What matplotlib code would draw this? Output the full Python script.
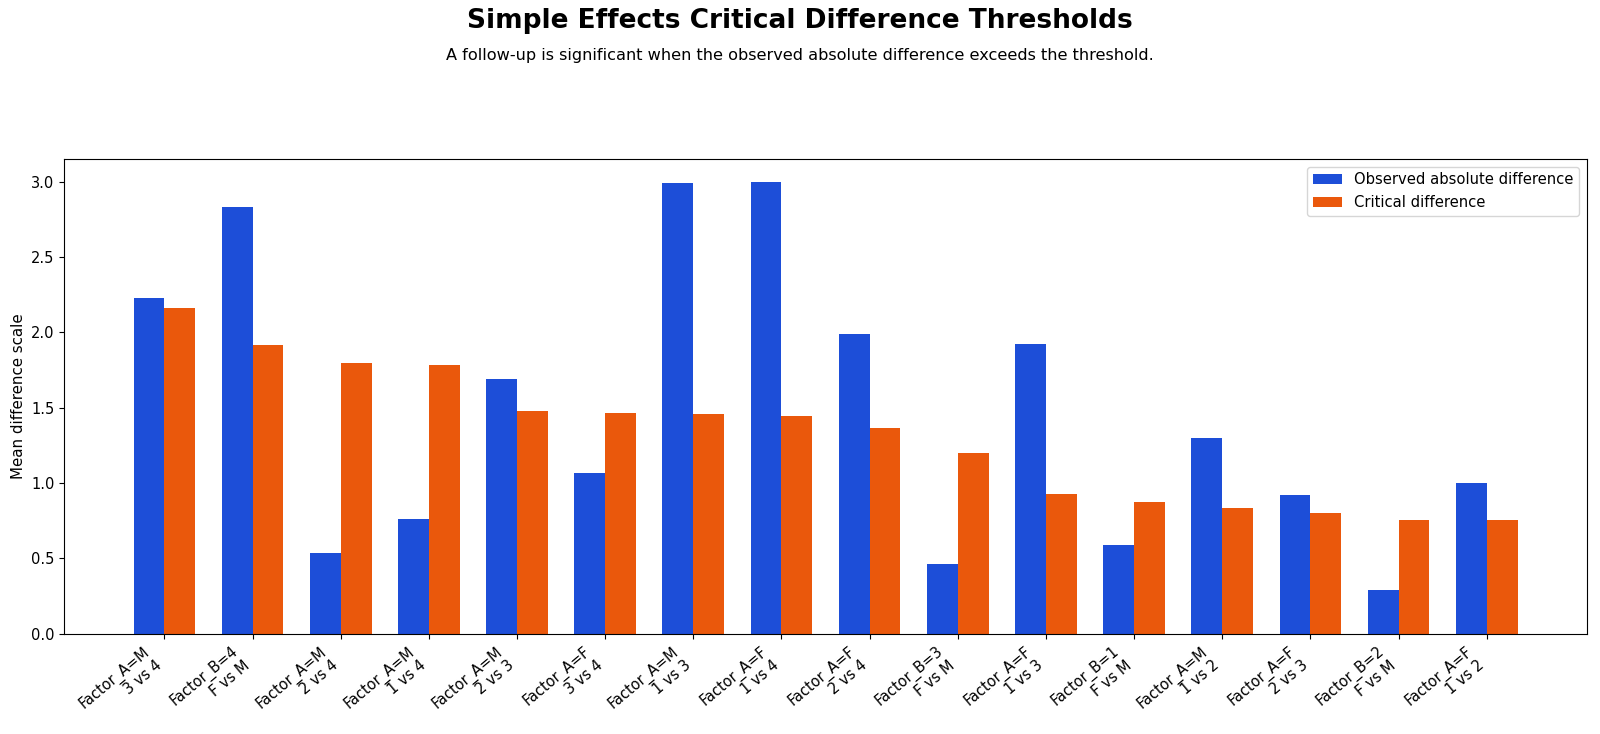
import matplotlib
matplotlib.use("Agg")
import matplotlib.pyplot as plt
import numpy as np

COLOR_OBSERVED = "#1d4ed8"
COLOR_CRITICAL = "#ea580c"
BAR_WIDTH = 0.35

comparisons = [
    "Factor_A=M\n3 vs 4", "Factor_B=4\nF vs M", "Factor_A=M\n2 vs 4", "Factor_A=M\n1 vs 4",
    "Factor_A=M\n2 vs 3", "Factor_A=F\n3 vs 4", "Factor_A=M\n1 vs 3", "Factor_A=F\n1 vs 4",
    "Factor_A=F\n2 vs 4", "Factor_B=3\nF vs M", "Factor_A=F\n1 vs 3", "Factor_B=1\nF vs M",
    "Factor_A=M\n1 vs 2", "Factor_A=F\n2 vs 3", "Factor_B=2\nF vs M", "Factor_A=F\n1 vs 2",
]
observed_diff = [2.23, 2.83, 0.535, 0.76, 1.69, 1.065, 2.995, 3.0,
                 1.99, 0.465, 1.925, 0.59, 1.30, 0.92, 0.29, 1.00]
critical_diff = [2.165, 1.915, 1.795, 1.782, 1.477, 1.467, 1.46, 1.445,
                 1.367, 1.20, 0.93, 0.875, 0.832, 0.80, 0.757, 0.754]

fig = plt.figure(figsize=(16, 7.34), dpi=100)
ax = fig.add_axes([0.0402, 0.1366, 0.9515, 0.6465])

x = np.arange(len(comparisons))
ax.bar(x - BAR_WIDTH / 2, observed_diff, BAR_WIDTH, color=COLOR_OBSERVED,
       label="Observed absolute difference")
ax.bar(x + BAR_WIDTH / 2, critical_diff, BAR_WIDTH, color=COLOR_CRITICAL,
       label="Critical difference")

ax.set_xticks(x)
ax.set_xticklabels(comparisons, rotation=40, ha="right", fontsize=10.5)
ax.tick_params(axis="y", labelsize=10.5)
ax.set_ylabel("Mean difference scale", fontsize=10.8)
ax.legend(loc="upper right", fontsize=10.6)

fig.text(0.5, 0.971, "Simple Effects Critical Difference Thresholds",
         ha="center", va="center", fontsize=19, fontweight="bold")
fig.text(0.5, 0.925, "A follow-up is significant when the observed absolute difference exceeds the threshold.",
         ha="center", va="center", fontsize=11.6)

fig.savefig("out.png", facecolor="white")
plt.close(fig)
